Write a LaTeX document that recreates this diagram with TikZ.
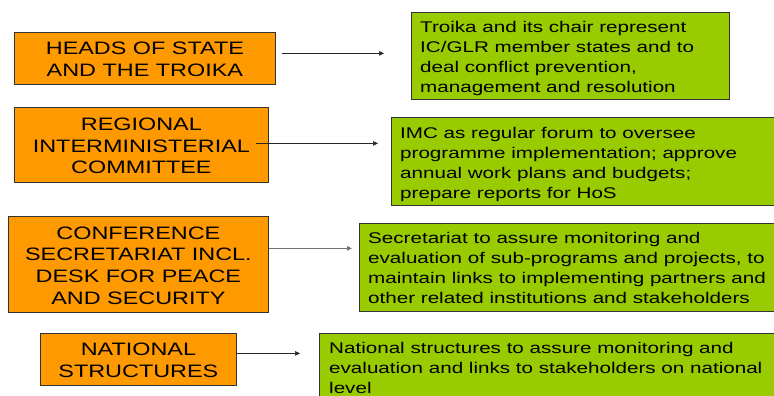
\documentclass[tikz,border=0pt]{standalone}
\usepackage{fontspec}
\setmainfont{Liberation Sans}
\newfontfamily\orfont[FakeStretch=1.3]{Liberation Sans}
\newfontfamily\grfont[FakeStretch=1.33]{Liberation Sans}
\usetikzlibrary{arrows.meta}
\definecolor{boxorange}{HTML}{FF9900}
\definecolor{boxgreen}{HTML}{99CC00}
\begin{document}
\begin{tikzpicture}[x=1pt,y=1pt,
  obox/.style={draw=black!80, line width=0.8pt, fill=boxorange, inner sep=0pt, anchor=north west},
  gbox/.style={draw=black!80, line width=0.8pt, fill=boxgreen, inner sep=0pt, anchor=north west},
  otext/.style={font=\orfont\fontsize{18}{21.7}\selectfont, align=center, inner sep=0pt},
  gtext/.style={font=\grfont\fontsize{15.5}{20}\selectfont, align=left, inner sep=0pt, anchor=north west},
  conn/.style={draw=black!85, line width=0.6pt, -{Triangle[length=5pt,width=4.5pt]}}]
\clip (0,0) rectangle (774,-396);
\fill[white] (0,0) rectangle (774,-396);
% orange boxes
\node[obox, minimum width=261pt, minimum height=52pt] (o1) at (14,-32) {};
\node[obox, minimum width=254pt, minimum height=75pt] (o2) at (14,-107) {};
\node[obox, minimum width=260pt, minimum height=96pt] (o3) at (8,-216) {};
\node[obox, minimum width=196pt, minimum height=52pt] (o4) at (40,-333) {};
\node[otext] (ot1) at ([yshift=-1pt]o1.center) {HEADS OF STATE\\AND THE TROIKA};
\node[otext] (ot2) at ([yshift=-1pt]o2.center) {REGIONAL\\INTERMINISTERIAL\\COMMITTEE};
\node[otext] (ot3) at ([yshift=-1pt]o3.center) {CONFERENCE\\SECRETARIAT INCL.\\DESK FOR PEACE\\AND SECURITY};
\node[otext] (ot4) at ([yshift=-1pt]o4.center) {NATIONAL\\STRUCTURES};
% green boxes
\node[gbox, minimum width=318pt, minimum height=87pt] (g1) at (411,-12) {};
\node[gbox, minimum width=400pt, minimum height=88pt] (g2) at (391,-117) {};
\node[gbox, minimum width=430pt, minimum height=88pt] (g3) at (359,-223) {};
\node[gbox, minimum width=470pt, minimum height=80pt] (g4) at (319,-333) {};
\node[gtext] (gt1) at ([shift={(9,-8.7)}]g1.north west) {Troika and its chair represent\\IC/GLR member states and to\\deal conflict prevention,\\management and resolution};
\node[gtext] (gt2) at ([shift={(9,-9.7)}]g2.north west) {IMC as regular forum to oversee\\programme implementation; approve\\annual work plans and budgets;\\prepare reports for HoS};
\node[gtext] (gt3) at ([shift={(9,-8.7)}]g3.north west) {Secretariat to assure monitoring and\\evaluation of sub-programs and projects, to\\maintain links to implementing partners and\\other related institutions and stakeholders};
\node[gtext] (gt4) at ([shift={(10,-8.7)}]g4.north west) {National structures to assure monitoring and\\evaluation and links to stakeholders on national\\level};
% connectors
\draw[conn] ([shift={(6,5)}]o1.east) -- ([shift={(-27,2.5)}]g1.west);
\draw[conn] ([shift={(-13,1.5)}]o2.east) -- ([shift={(-13,18)}]g2.west);
\draw[conn, draw=black!55, line width=0.9pt] ([shift={(0,16)}]o3.east) -- ([shift={(-7,19)}]g3.west);
\draw[conn] ([shift={(0,6)}]o4.east) -- ([shift={(-19,20)}]g4.west);
\end{tikzpicture}
\end{document}
